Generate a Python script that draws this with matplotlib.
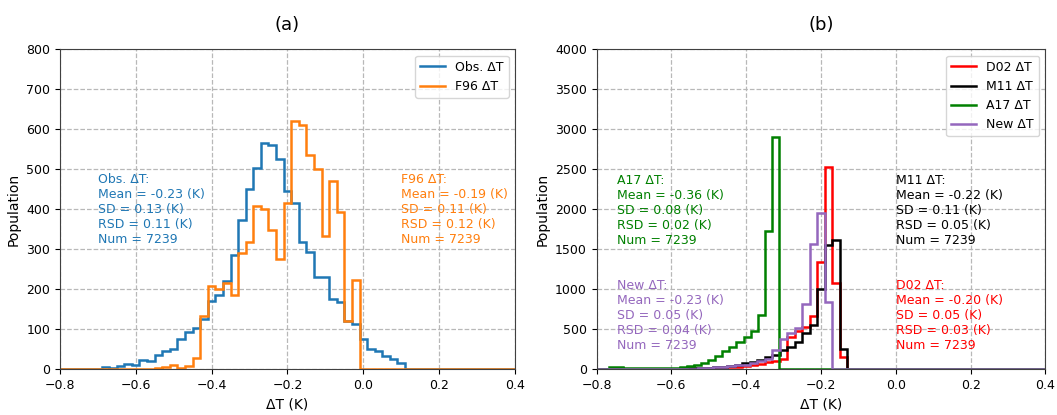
import numpy as np
import matplotlib
matplotlib.use("Agg")
import matplotlib.pyplot as plt

# ---------------- data ----------------
x_ticks = [-0.8, -0.6, -0.4, -0.2, 0.0, 0.2, 0.4]
ya_ticks = list(range(0, 801, 100))
yb_ticks = list(range(0, 4001, 500))

bin_width = 0.02

# Panel (a): observed vs. F96 skin-bulk temperature difference
obs_left = -0.79
obs_counts = [1, 1, 2, 1, 2, 5, 3, 8, 13, 12, 23, 22, 36, 47, 52, 75, 94, 104,
              127, 172, 186, 222, 286, 373, 452, 504, 566, 560, 527, 447, 417,
              318, 294, 232, 232, 177, 169, 122, 113, 77, 52, 47, 33, 27, 15,
              1, 2, 2]
f96_left = -0.55
f96_counts = [3, 5, 10, 4, 8, 29, 133, 209, 202, 215, 186, 290, 319, 409, 402,
              348, 277, 417, 622, 612, 536, 502, 333, 471, 394, 121, 223]

# Panel (b): parameterisation results
d02_left = -0.79
d02_counts = [0, 0, 0, 0, 1, 1, 1, 2, 2, 3, 4, 5, 6, 8, 10, 14, 20, 30, 33, 40,
              55, 70, 87, 110, 125, 408, 480, 530, 667, 1346, 2530, 1083, 158]
m11_left = -0.79
m11_counts = [1, 2, 2, 3, 3, 4, 5, 6, 7, 8, 10, 12, 14, 17, 22, 27, 35, 45, 55,
              75, 96, 117, 150, 180, 241, 283, 346, 450, 560, 1000, 1554, 1617,
              250]
a17_left = -0.787
a17_width = 0.019
a17_counts = [10, 30, 25, 12, 13, 14, 15, 16, 18, 20, 22, 28, 36, 50, 80, 120,
              170, 225, 285, 340, 400, 475, 680, 1735, 2910]
new_left = -0.79
new_counts = [0, 0, 0, 0, 1, 1, 2, 2, 3, 3, 4, 5, 8, 12, 18, 25, 30, 40, 50, 60,
              80, 100, 130, 240, 375, 450, 512, 812, 1563, 1950, 846]

obs_label, f96_label = "Obs. ΔT", "F96 ΔT"
d02_label, m11_label, a17_label, new_label = "D02 ΔT", "M11 ΔT", "A17 ΔT", "New ΔT"

obs_stats = "Obs. ΔT:\nMean = -0.23 (K)\nSD = 0.13 (K)\nRSD = 0.11 (K)\nNum = 7239"
f96_stats = "F96 ΔT:\nMean = -0.19 (K)\nSD = 0.11 (K)\nRSD = 0.12 (K)\nNum = 7239"
a17_stats = "A17 ΔT:\nMean = -0.36 (K)\nSD = 0.08 (K)\nRSD = 0.02 (K)\nNum = 7239"
new_stats = "New ΔT:\nMean = -0.23 (K)\nSD = 0.05 (K)\nRSD = 0.04 (K)\nNum = 7239"
m11_stats = "M11 ΔT:\nMean = -0.22 (K)\nSD = 0.11 (K)\nRSD = 0.05 (K)\nNum = 7239"
d02_stats = "D02 ΔT:\nMean = -0.20 (K)\nSD = 0.05 (K)\nRSD = 0.03 (K)\nNum = 7239"

XLIM = (-0.8, 0.4)

C_BLUE, C_ORANGE = "#1f77b4", "#ff7f0e"
C_RED, C_BLACK, C_GREEN, C_PURPLE = "red", "black", "green", "#9467bd"


def step_hist(ax, left, width, counts, color, label):
    """Outline histogram padded with empty bins out to the axis limits."""
    edges = left + width * np.arange(len(counts) + 1)
    edges = np.concatenate([[XLIM[0]], edges, [XLIM[1]]])
    vals = np.concatenate([[0], counts, [0]])
    ax.stairs(vals, edges, color=color, lw=1.8, label=label)


def style(ax, yticks, title):
    ax.set_xlim(*XLIM)
    ax.set_ylim(yticks[0], yticks[-1])
    ax.set_xticks(x_ticks)
    ax.set_yticks(yticks)
    ax.tick_params(labelsize=9)
    ax.grid(True, ls="--", color="0.72", lw=0.9)
    ax.set_axisbelow(True)
    ax.set_xlabel("ΔT (K)", fontsize=10)
    ax.set_ylabel("Population", fontsize=10)
    ax.set_title(title, fontsize=13, pad=14)
    for s in ax.spines.values():
        s.set_color("0.25")


fig = plt.figure(figsize=(10.57, 4.15), dpi=100)
ax1 = fig.add_axes([0.0566, 0.110, 0.4307, 0.771])
ax2 = fig.add_axes([0.5644, 0.110, 0.4246, 0.771])

# (a)
step_hist(ax1, obs_left, bin_width, obs_counts, C_BLUE, obs_label)
step_hist(ax1, f96_left, bin_width, f96_counts, C_ORANGE, f96_label)
style(ax1, ya_ticks, "(a)")
ax1.legend(loc="upper right", fontsize=9)
ax1.text(-0.70, 492, obs_stats, color=C_BLUE, fontsize=9, va="top", ha="left")
ax1.text(0.10, 492, f96_stats, color=C_ORANGE, fontsize=9, va="top", ha="left")

# (b)
step_hist(ax2, d02_left, bin_width, d02_counts, C_RED, d02_label)
step_hist(ax2, m11_left, bin_width, m11_counts, C_BLACK, m11_label)
step_hist(ax2, a17_left, a17_width, a17_counts, C_GREEN, a17_label)
step_hist(ax2, new_left, bin_width, new_counts, C_PURPLE, new_label)
style(ax2, yb_ticks, "(b)")
ax2.legend(loc="upper right", fontsize=9)
ax2.text(-0.746, 2440, a17_stats, color=C_GREEN, fontsize=9, va="top", ha="left")
ax2.text(-0.746, 1129, new_stats, color=C_PURPLE, fontsize=9, va="top", ha="left")
ax2.text(0.0, 2440, m11_stats, color=C_BLACK, fontsize=9, va="top", ha="left")
ax2.text(0.0, 1129, d02_stats, color=C_RED, fontsize=9, va="top", ha="left")

fig.savefig("out.png", dpi=100)
